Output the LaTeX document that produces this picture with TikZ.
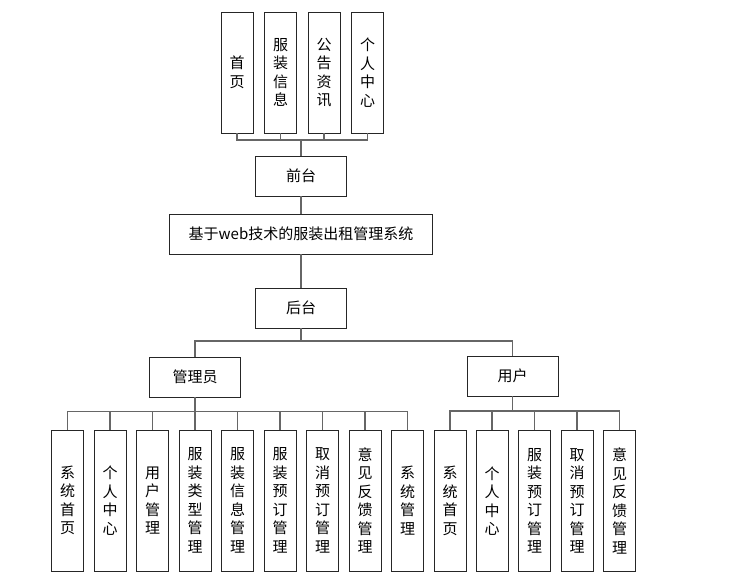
\documentclass[tikz,border=0pt]{standalone}
\usepackage{fontspec}
\newfontfamily\cjk{Noto Sans CJK SC}
\begin{document}
\begin{tikzpicture}[x=1pt,y=-1pt,
  box/.style={draw=black!85,line width=0.9pt,fill=white,inner sep=0pt,align=center,
    font=\cjk\fontsize{15}{18.5}\selectfont},
  hbox/.style={box,minimum width=91pt,minimum height=40pt},
  vbox/.style={box,minimum width=32pt,minimum height=141pt},
  tbox/.style={box,minimum width=32pt,minimum height=121pt},
  conn/.style={draw=black!60,line width=1.2pt}]
\useasboundingbox (0,0) rectangle (741,578);
% top
\node[tbox] (t1) at (237,72.5) {首\\页};
\node[tbox] (t2) at (280.5,72.5) {服\\装\\信\\息};
\node[tbox] (t3) at (324,72.5) {公\\告\\资\\讯};
\node[tbox] (t4) at (367.5,72.5) {个\\人\\中\\心};
\node[hbox] (front) at (301,176) {前台};
\node[box,minimum width=263pt,minimum height=40pt] (main) at (301,234) {基于web技术的服装出租管理系统};
\node[hbox] (back) at (301,308) {后台};
\node[hbox] (admin) at (195,377) {管理员};
\node[hbox] (user) at (512.5,376) {用户};
% admin children
\node[vbox] (a1) at (67.5,500.5) {系\\统\\首\\页};
\node[vbox] (a2) at (110,500.5) {个\\人\\中\\心};
\node[vbox] (a3) at (152.5,500.5) {用\\户\\管\\理};
\node[vbox] (a4) at (195,500.5) {服\\装\\类\\型\\管\\理};
\node[vbox] (a5) at (237.5,500.5) {服\\装\\信\\息\\管\\理};
\node[vbox] (a6) at (280,500.5) {服\\装\\预\\订\\管\\理};
\node[vbox] (a7) at (322.5,500.5) {取\\消\\预\\订\\管\\理};
\node[vbox] (a8) at (365,500.5) {意\\见\\反\\馈\\管\\理};
\node[vbox] (a9) at (407.5,500.5) {系\\统\\管\\理};
% user children
\node[vbox] (u1) at (450,501) {系\\统\\首\\页};
\node[vbox] (u2) at (492,501) {个\\人\\中\\心};
\node[vbox] (u3) at (534.5,501) {服\\装\\预\\订\\管\\理};
\node[vbox] (u4) at (577,501) {取\\消\\预\\订\\管\\理};
\node[vbox] (u5) at (619.5,501) {意\\见\\反\\馈\\管\\理};
% bus coordinates
\coordinate (topbus) at (301,140);
\coordinate (midbus) at (301,341);
\coordinate (abus) at (195,411.5);
\coordinate (ubus) at (512.5,411);
% connectors
\foreach \n in {t1,t2,t3,t4}
  \draw[conn] (\n.south) -- (\n.south |- topbus) -| (front.north);
\draw[conn] (front.south) -- (main.north);
\draw[conn] (main.south) -- (back.north);
\draw[conn] (back.south) -- (midbus) -| (admin.north);
\draw[conn] (midbus) -| (user.north);
\foreach \n in {a1,a2,a3,a4,a5,a6,a7,a8,a9}
  \draw[conn] (\n.north) -- (\n.north |- abus) -| (admin.south);
\foreach \n in {u1,u2,u3,u4,u5}
  \draw[conn] (\n.north) -- (\n.north |- ubus) -| (user.south);
\end{tikzpicture}
\end{document}
